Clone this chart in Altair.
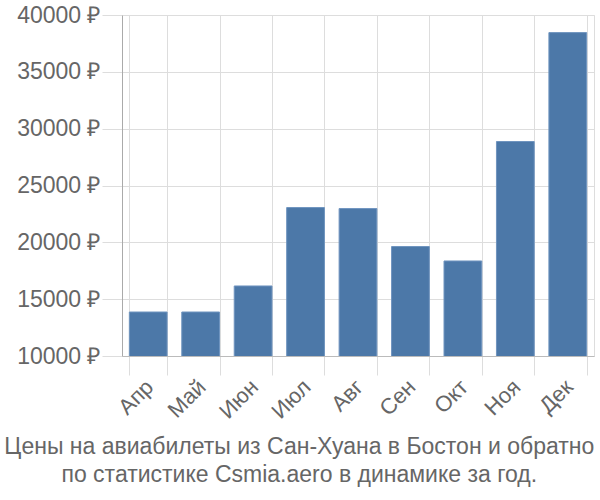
import altair as alt
import pandas as pd

months = ["Апр", "Май", "Июн", "Июл", "Авг", "Сен", "Окт", "Ноя", "Дек"]
prices = [13870, 13870, 16160, 23060, 22970, 19630, 18360, 28870, 38450]
title_lines = ["Цены на авиабилеты из Сан-Хуана в Бостон и обратно",
               "по статистике Csmia.aero в динамике за год."]

df = pd.DataFrame({"month": months, "price": prices})

FONT = "Liberation Sans"

chart = alt.Chart(df).mark_bar(color="#4c78a8", stroke="#6f94bf", strokeWidth=1, clip=True).encode(
    x=alt.X("month:N", sort=months, title=None,
            scale=alt.Scale(paddingInner=0.28, paddingOuter=0.14),
            axis=alt.Axis(labelAngle=-45, labelFontSize=22, labelColor="#666666",
                          labelFont=FONT, tickBand="extent", grid=True,
                          gridColor="#dddddd", tickColor="#dddddd", tickSize=19,
                          domainColor="#bbbbbb", labelPadding=1, labelOffset=-6)),
    y=alt.Y("price:Q", title=None,
            scale=alt.Scale(domain=[10000, 40000]),
            axis=alt.Axis(values=[10000, 15000, 20000, 25000, 30000, 35000, 40000],
                          labelExpr="datum.value + ' ₽'",
                          labelFontSize=23, labelColor="#666666", labelFont=FONT,
                          gridColor="#dddddd", tickColor="#dddddd", tickSize=20,
                          domainColor="#aaaaaa", labelPadding=2)),
).properties(
    width=472, height=341,
    autosize=alt.AutoSizeParams(type="none"),
    padding={"left": 122, "top": 15, "right": 6, "bottom": 144},
    title=alt.TitleParams(text=title_lines, orient="bottom", fontSize=23,
                          font=FONT, fontWeight="normal", color="#666666",
                          anchor="middle", frame="bounds", offset=14, lineHeight=28,
                          dx=-6),
).configure_view(stroke="#dddddd")

chart.save("out.html", embed_options={"renderer": "svg", "actions": False})
